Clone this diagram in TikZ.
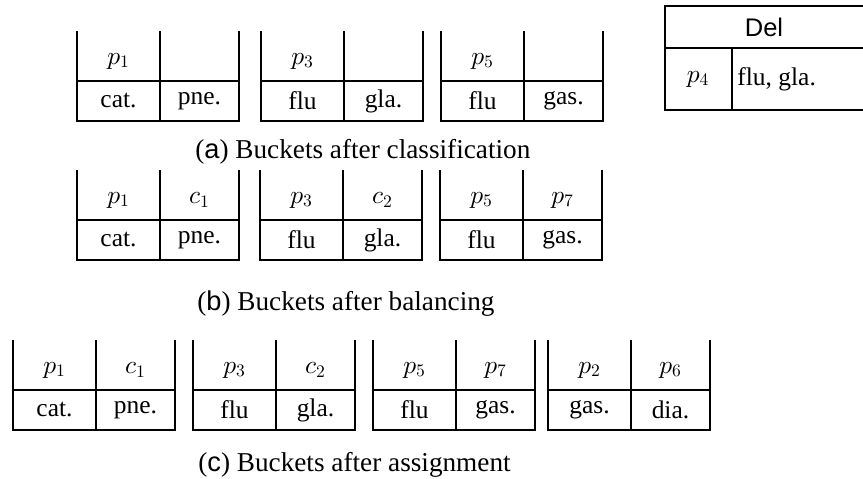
\documentclass[tikz,border=0pt]{standalone}
\usepackage[no-math]{fontspec}
\setmainfont{Liberation Serif}
\setsansfont{Liberation Sans}
% darker math letters at the larger cell size
\DeclareFontShape{OML}{cmm}{m}{it}{<-9>cmmi7 <9->cmmi10}{}

\tikzset{
  wall/.style={line width=1.5pt},
  cell/.style={inner sep=0pt,font=\fontsize{14.5}{17}\selectfont},
  subcap/.style={anchor=west,inner sep=0pt,font=\fontsize{15.5}{18}\selectfont}
}

% open bucket: name, left x, middle y, then the four entries
\newcommand{\bucket}[7]{%
  \draw[wall] (#2,#3+50) |- (#2+162,#3-40) -- (#2+162,#3+50);
  \draw[wall] (#2,#3) -- (#2+162,#3);
  \draw[wall] (#2+83,#3+50) -- (#2+83,#3-40);
  \node[cell] (#1-tl) at (#2+41.5,#3+20) {#4};
  \node[cell] (#1-tr) at (#2+122.5,#3+20) {#5};
  \node[cell] (#1-bl) at (#2+41.5,#3-20) {#6};
  \node[cell] (#1-br) at (#2+122.5,#3-20) {#7};
}

\begin{document}
\begin{tikzpicture}[x=0.02cm,y=0.02cm]
  \useasboundingbox (0,0) rectangle (863,478);

  % after classification
  \bucket{a1}{77}{397}{$p_1$}{}{cat.}{pne.}
  \bucket{a2}{261}{397}{$p_3$}{}{flu}{gla.}
  \bucket{a3}{441}{397}{$p_5$}{}{flu}{gas.}
  \node[subcap] (capa) at (195,326) {(\textsf{a}) Buckets after classification};

  % deleted table
  \draw[wall] (863,472) -| (665,368) -- (863,368);
  \draw[wall] (665,430) -- (863,430);
  \draw[wall] (732,430) -- (732,368);
  \node[cell] (del) at (764,451) {\textsf{Del}};
  \node[cell] (delp) at (698,399) {$p_4$};
  \node[cell,anchor=west] (delc) at (737,399) {flu, gla.};

  % after balancing
  \bucket{b1}{77}{258}{$p_1$}{$c_1$}{cat.}{pne.}
  \bucket{b2}{260}{258}{$p_3$}{$c_2$}{flu}{gla.}
  \bucket{b3}{440}{258}{$p_5$}{$p_7$}{flu}{gas.}
  \node[subcap] (capb) at (197,174) {(\textsf{b}) Buckets after balancing};

  % after assignment
  \bucket{c1}{13}{88}{$p_1$}{$c_1$}{cat.}{pne.}
  \bucket{c2}{193}{88}{$p_3$}{$c_2$}{flu}{gla.}
  \bucket{c3}{373}{88}{$p_5$}{$p_7$}{flu}{gas.}
  \bucket{c4}{548}{88}{$p_2$}{$p_6$}{gas.}{dia.}
  \node[subcap] (capc) at (198,13) {(\textsf{c}) Buckets after assignment};
\end{tikzpicture}
\end{document}
